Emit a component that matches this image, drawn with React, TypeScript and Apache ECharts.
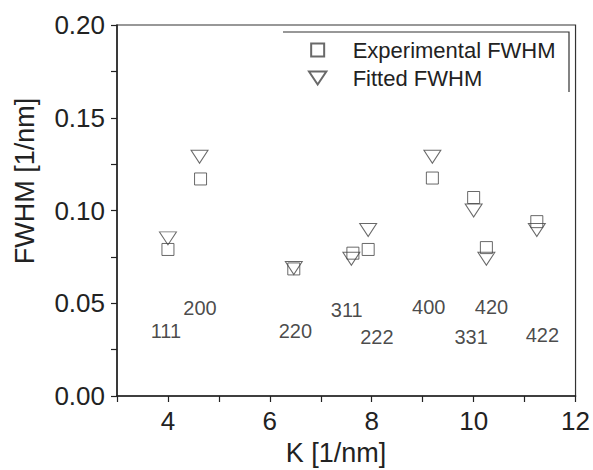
import React, { useEffect, useRef } from "react";
import * as echarts from "echarts";

const experimental: [number, number][] = [
  [4.0, 0.079],
  [4.64, 0.117],
  [6.47, 0.0685],
  [7.63, 0.077],
  [7.93, 0.079],
  [9.19, 0.1175],
  [10.0, 0.107],
  [10.25, 0.08],
  [11.24, 0.094],
];

const fitted: [number, number][] = [
  [4.0, 0.085],
  [4.62, 0.129],
  [6.47, 0.069],
  [7.6, 0.074],
  [7.93, 0.0895],
  [9.19, 0.129],
  [10.0, 0.1],
  [10.25, 0.074],
  [11.24, 0.0895],
];

const hklLabels: string[] = ["111", "200", "220", "311", "222", "400", "420", "331", "422"];
const hklPositions: [number, number][] = [
  [3.96, 0.0352],
  [4.63, 0.0474],
  [6.5, 0.0352],
  [7.51, 0.0464],
  [8.1, 0.032],
  [9.12, 0.0478],
  [10.35, 0.0478],
  [9.95, 0.032],
  [11.35, 0.033],
];

const FONT = "Liberation Sans";
const TRI = "path://M0,0L20,0L10,15Z";
const SQ = "path://M0,0L10,0L10,10L0,10Z";

export default function App() {
  const ref = useRef<HTMLDivElement>(null);
  useEffect(() => {
    if (!ref.current) return;
    const chart = echarts.init(ref.current, undefined, { renderer: "svg" });
    const labelData = hklPositions.map((p, i) => [p[0], p[1], hklLabels[i]]);
    chart.setOption({
      animation: false,
      backgroundColor: "#ffffff",
      grid: {
        left: 117,
        right: 16,
        top: 25,
        bottom: 74,
        show: true,
        borderColor: "#333",
        borderWidth: 1.2,
        backgroundColor: "transparent",
      },
      legend: {
        orient: "vertical",
        left: 308,
        top: 39,
        itemWidth: 60,
        itemHeight: 13,
        itemGap: 6,
        padding: 0,
        data: [
          { name: "Experimental FWHM", icon: SQ },
          { name: "Fitted FWHM", icon: TRI },
        ],
        textStyle: { fontFamily: FONT, fontSize: 22, color: "#222", lineHeight: 22 },
      },
      xAxis: {
        type: "value",
        min: 3,
        max: 12,
        interval: 1,
        splitLine: { show: false },
        axisLine: { lineStyle: { color: "#222", width: 1.5 } },
        axisTick: { inside: false, length: 6, lineStyle: { color: "#222", width: 1.2 } },
        axisLabel: {
          margin: 12,
          fontFamily: FONT,
          fontSize: 26,
          color: "#222",
          formatter: (v: number) => (Math.round(v) % 2 === 0 ? String(v) : ""),
        },
      },
      yAxis: {
        type: "value",
        min: 0,
        max: 0.2,
        interval: 0.025,
        splitLine: { show: false },
        axisLine: { lineStyle: { color: "#222", width: 1.5 } },
        axisTick: { inside: false, length: 6, lineStyle: { color: "#222", width: 1.2 } },
        axisLabel: {
          margin: 12,
          fontFamily: FONT,
          fontSize: 26,
          color: "#222",
          formatter: (v: number) =>
            Math.round(v * 1000) % 50 === 0 ? v.toFixed(2) : "",
        },
      },
      graphic: [
        {
          type: "text",
          x: 25,
          y: 181,
          rotation: Math.PI / 2,
          style: {
            text: "FWHM [1/nm]",
            fontFamily: FONT,
            fontSize: 27,
            fill: "#222",
            align: "center",
            verticalAlign: "middle",
          },
        },
        {
          type: "text",
          x: 336,
          y: 453,
          style: {
            text: "K [1/nm]",
            fontFamily: FONT,
            fontSize: 27,
            fill: "#222",
            align: "center",
            verticalAlign: "middle",
          },
        },
        {
          type: "polyline",
          shape: { points: [[283, 32], [569, 32], [569, 92]] },
          style: { stroke: "#333", lineWidth: 1.2, fill: "none" },
        },
      ],
      series: [
        {
          name: "Experimental FWHM",
          type: "scatter",
          symbol: SQ,
          symbolSize: 12,
          data: experimental,
          itemStyle: { color: "transparent", borderColor: "#444", borderWidth: 1 },
          z: 3,
        },
        {
          name: "Fitted FWHM",
          type: "scatter",
          symbol: TRI,
          symbolSize: [17, 13],
          data: fitted,
          itemStyle: { color: "transparent", borderColor: "#444", borderWidth: 1 },
          z: 4,
        },
        {
          name: "hkl",
          type: "scatter",
          symbolSize: 1,
          silent: true,
          data: labelData,
          itemStyle: { color: "transparent" },
          label: {
            show: true,
            position: "inside",
            formatter: (p: any) => p.data[2],
            fontFamily: FONT,
            fontSize: 20,
            color: "#1a1a1a",
            textBorderWidth: 0,
          },
        },
      ],
    });
    return () => chart.dispose();
  }, []);
  return (
    <div
      ref={ref}
      style={{ position: "fixed", left: 0, top: 0, width: 593, height: 470 }}
    />
  );
}
